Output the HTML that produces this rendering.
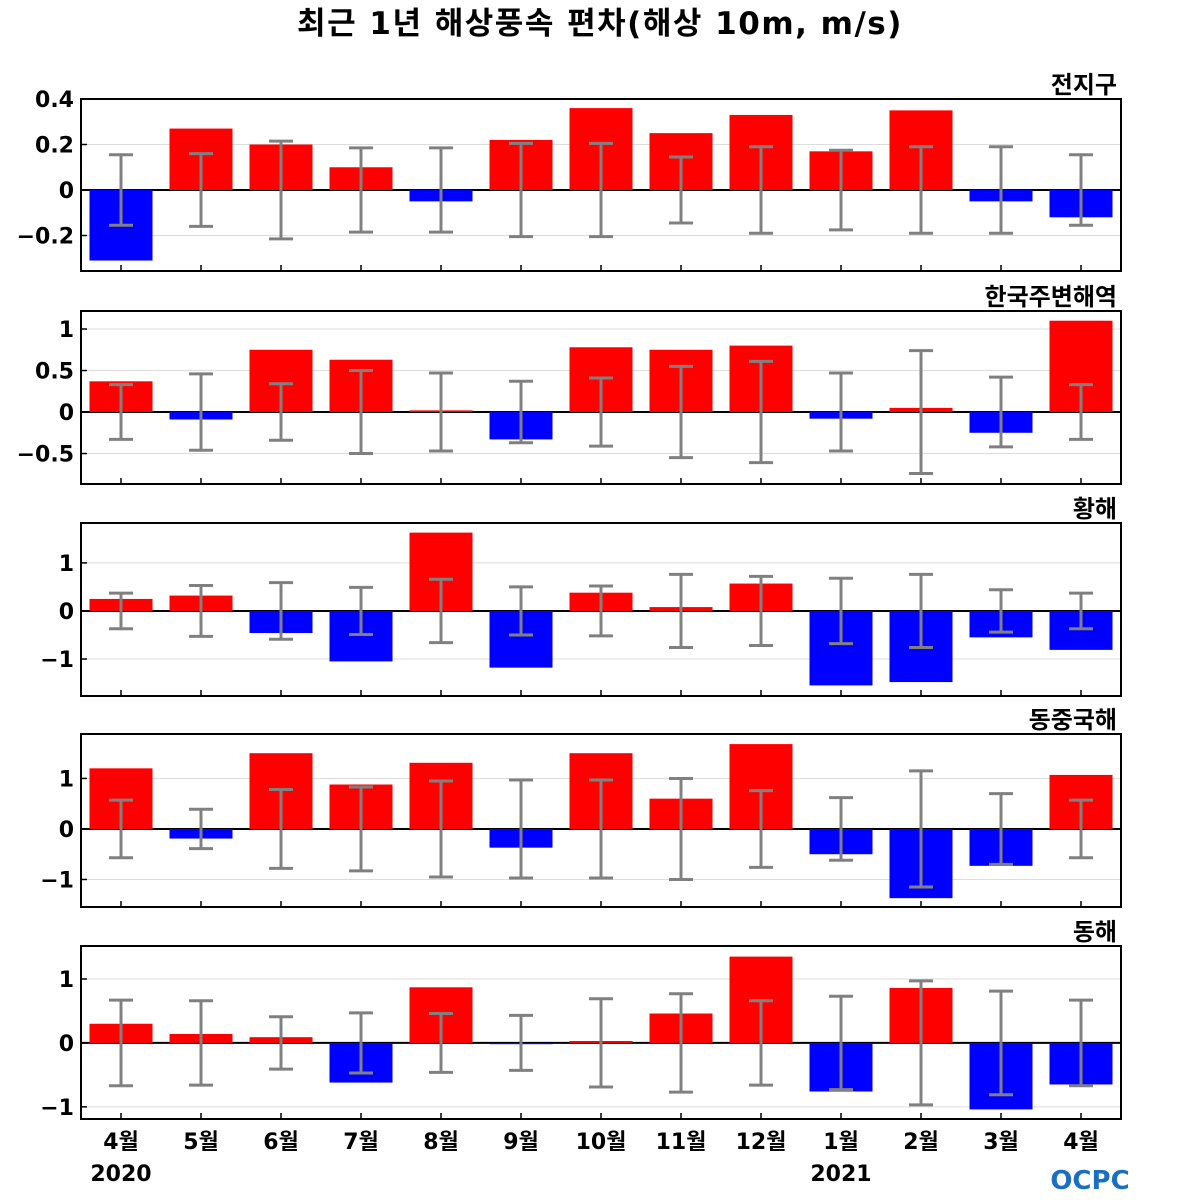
<!DOCTYPE html>
<html><head><meta charset="utf-8"><style>
body{margin:0;background:#fff;}
svg{display:block;font-family:"DejaVu Sans","Noto Sans CJK KR",sans-serif;}
</style></head><body>
<svg id="chart" width="1200" height="1200" viewBox="0 0 1200 1200" xmlns="http://www.w3.org/2000/svg">
<text x="600" y="34" text-anchor="middle" font-size="31" font-weight="bold" letter-spacing="1.5">최근 1년 해상풍속 편차(해상 10m, m/s)</text>
<g>
<text x="1090" y="1189" text-anchor="middle" font-size="26" font-weight="bold" fill="#1a6fc0">OCPC</text>
</g>
</svg>
<script>
const months = ["4월","5월","6월","7월","8월","9월","10월","11월","12월","1월","2월","3월","4월"];
const panelNames = ["전지구","한국주변해역","황해","동중국해","동해"];
const globalVals = [-0.31,0.27,0.20,0.10,-0.05,0.22,0.36,0.25,0.33,0.17,0.35,-0.05,-0.12];
const globalErr = [0.155,0.16,0.215,0.185,0.185,0.205,0.205,0.145,0.19,0.175,0.19,0.19,0.155];
const koreaVals = [0.37,-0.09,0.75,0.63,0.02,-0.33,0.78,0.75,0.80,-0.08,0.05,-0.25,1.10];
const koreaErr = [0.33,0.46,0.34,0.50,0.47,0.37,0.41,0.55,0.61,0.47,0.74,0.42,0.33];
const yellowVals = [0.25,0.32,-0.46,-1.05,1.63,-1.18,0.38,0.08,0.57,-1.55,-1.48,-0.55,-0.81];
const yellowErr = [0.37,0.53,0.59,0.49,0.66,0.50,0.52,0.76,0.72,0.68,0.76,0.44,0.37];
const ecsVals = [1.20,-0.19,1.50,0.88,1.31,-0.37,1.50,0.60,1.68,-0.50,-1.37,-0.73,1.07];
const ecsErr = [0.57,0.39,0.78,0.83,0.95,0.97,0.97,1.00,0.76,0.62,1.15,0.70,0.57];
const eastVals = [0.30,0.14,0.09,-0.62,0.87,-0.02,0.03,0.46,1.35,-0.76,0.86,-1.04,-0.65];
const eastErr = [0.67,0.66,0.41,0.47,0.46,0.43,0.69,0.77,0.66,0.73,0.97,0.81,0.67];
const tick0 = [0.4,0.2,0,-0.2], tickL0 = ["0.4","0.2","0","−0.2"];
const tick1 = [1,0.5,0,-0.5], tickL1 = ["1","0.5","0","−0.5"];
const tick2 = [1,0,-1], tickL2 = ["1","0","−1"];

const svg = document.getElementById('chart');
const NS = "http://www.w3.org/2000/svg";
function mk(tag, attrs, parent){const e=document.createElementNS(NS,tag);for(const k in attrs)e.setAttribute(k,attrs[k]);(parent||svg).appendChild(e);return e;}

const panels = [
 {vals:globalVals,err:globalErr,top:99,bot:271,ymax:0.40,ymin:-0.356,ticks:tick0,tl:tickL0},
 {vals:koreaVals,err:koreaErr,top:311,bot:484,ymax:1.217,ymin:-0.867,ticks:tick1,tl:tickL1},
 {vals:yellowVals,err:yellowErr,top:523,bot:696,ymax:1.83,ymin:-1.77,ticks:tick2,tl:tickL2},
 {vals:ecsVals,err:ecsErr,top:734,bot:907,ymax:1.88,ymin:-1.545,ticks:tick2,tl:tickL2},
 {vals:eastVals,err:eastErr,top:946,bot:1119,ymax:1.516,ymin:-1.19,ticks:tick2,tl:tickL2}
];
const X0=81, X1=1121, slot=(X1-X0)/months.length, BW=63;
function xc(i){return X0+slot*(i+0.5);}

panels.forEach((p,pi)=>{
  const y = v => p.top + (p.ymax - v)/(p.ymax - p.ymin)*(p.bot - p.top);
  const g = mk('g',{});
  
  
  const ttl = mk('text',{x:1117,y:p.top-6,'text-anchor':'end','font-size':24,'font-weight':'bold'},g);
  ttl.textContent = panelNames[pi];
  
  
  p.ticks.forEach((t,ti)=>{
    const gl = mk('line',{x1:X0,x2:X1,y1:y(t),y2:y(t),stroke:'#dcdcdc','stroke-width':1},g);
    
    
    mk('line',{x1:X0,x2:X0+6,y1:y(t),y2:y(t),stroke:'#000','stroke-width':1.5},g);
    const lb = mk('text',{x:74,y:y(t)+8,'text-anchor':'end','font-size':22,'font-weight':'bold'},g);
    lb.textContent = p.tl[ti];
    
    
  });
  const zl = mk('line',{x1:X0,x2:X1,y1:y(0),y2:y(0),stroke:'#000','stroke-width':2},g);
  
  
  p.vals.forEach((v,i)=>{
    const r = mk('rect',{x:xc(i)-BW/2,y:Math.min(y(v),y(0)),width:BW,height:Math.abs(y(v)-y(0)),fill:v>=0?'#ff0000':'#0000ff'},g);
    
    
  });
  p.err.forEach((e,i)=>{
    const eg = mk('g',{stroke:'#808080','stroke-width':3},g);
    
    
    mk('line',{x1:xc(i),x2:xc(i),y1:y(e),y2:y(-e)},eg);
    mk('line',{x1:xc(i)-12,x2:xc(i)+12,y1:y(e),y2:y(e)},eg);
    mk('line',{x1:xc(i)-12,x2:xc(i)+12,y1:y(-e),y2:y(-e)},eg);
    mk('line',{x1:xc(i),x2:xc(i),y1:p.bot,y2:p.bot-6,stroke:'#000','stroke-width':1.5},g);
  });
  const fr = mk('rect',{x:X0,y:p.top,width:X1-X0,height:p.bot-p.top,fill:'none',stroke:'#000','stroke-width':2},g);
  
  
});
months.forEach((m,i)=>{
  const t = mk('text',{x:xc(i),y:1149,'text-anchor':'middle','font-size':22,'font-weight':'bold'});
  t.textContent = m;
  
  
});
[["2020",0],["2021",9]].forEach(([yr,i])=>{
  const t = mk('text',{x:xc(i),y:1181,'text-anchor':'middle','font-size':22,'font-weight':'bold'});
  t.textContent = yr;
  
  
});
</script>
</body></html>
